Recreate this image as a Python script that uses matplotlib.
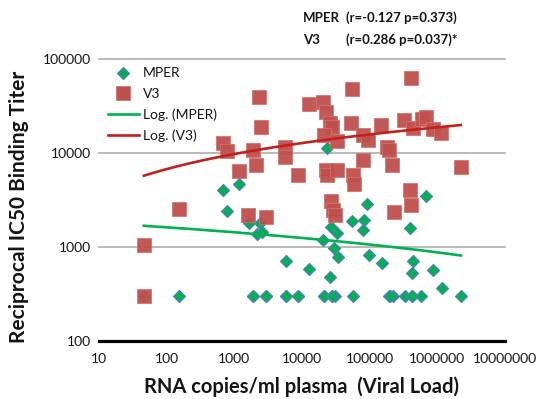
import numpy as np
import matplotlib
matplotlib.use('Agg')
import matplotlib.pyplot as plt
from matplotlib.lines import Line2D

plt.rcParams['font.family'] = ['Lato', 'DejaVu Sans']

# ---- data ----
mper_x = [46, 152, 680, 780, 1170, 1640, 2390, 2160, 2560, 5780, 12600, 23300,
          91000, 54600, 82100, 79400, 26700, 32800, 20400, 29600, 33900, 97300,
          151000, 25800, 676000, 393000, 435000, 420000, 859000, 1160000,
          1880, 2930, 5780, 8690, 21100, 27700, 30600, 56400, 192000, 220000,
          331000, 420000, 571000, 2230000,
          1900, 2900, 5800, 8700, 21000, 28000, 200000, 420000]
mper_y = [300, 300, 4000, 2400, 4700, 1790, 1790, 1370, 1440, 706, 581, 11300,
          2860, 1880, 1930, 1510, 1630, 1400, 1180, 970, 778, 818,
          671, 476, 3480, 1580, 706, 526, 567, 364,
          300, 300, 300, 300, 300, 300, 300, 300, 300, 300,
          300, 300, 300, 300,
          300, 300, 300, 300, 300, 300, 300, 300]

v3_x = [46, 46, 150, 680, 780, 1170, 1590, 1880, 2090, 2310, 2470, 2930,
        5600, 5600, 8700, 12600, 20400, 22500, 25800, 27700, 52800, 54600,
        21100, 32800, 79400, 94000, 146000, 179000, 192000, 79400, 213000,
        22500, 23300, 32800, 56400, 58400, 320000, 437000, 407000, 586000,
        676000, 859000, 1130000, 2230000, 393000, 407000, 228000, 26700,
        28600, 30600]
v3_y = [1050, 300, 2500, 12700, 10500, 6400, 2200, 10700, 7400, 39000, 19000, 2100,
        11600, 9000, 5800, 33000, 35000, 27000, 21000, 19000, 21000, 48000,
        15500, 13400, 15500, 13700, 20000, 11600, 10700, 8400, 7400,
        6600, 5800, 6600, 5800, 4700, 22400, 18600, 63000, 23000,
        24000, 18000, 16300, 7100, 4000, 2800, 2350, 3100,
        2460, 2180]

x_ticks = [10, 100, 1000, 10000, 100000, 1000000, 10000000]
x_tick_labels = ['10', '100', '1000', '10000', '100000', '1000000', '10000000']
y_ticks = [100, 1000, 10000, 100000]
y_tick_labels = ['100', '1000', '10000', '100000']

series_labels = ['MPER', 'V3', 'Log. (MPER)', 'Log. (V3)']
title_names = ['MPER', 'V3']
title_stats = ['(r=-0.127 p=0.373)', '(r=0.286 p=0.037)*']
x_label = 'RNA copies/ml plasma  (Viral Load)'
y_label = 'Reciprocal IC50 Binding Titer'

GREEN = '#00B050'
BLUE_EDGE = '#4F81BD'
RED_SQ = '#C0504D'
RED_LINE = '#C0211C'
TXT = '#141414'

W, H = 542, 399
fig = plt.figure(figsize=(W / 100, H / 100), dpi=100)
ax = fig.add_axes([99 / W, 58.3 / H, 406 / W, 281.7 / H])
ax.set_xscale('log')
ax.set_yscale('log')
ax.set_xlim(10, 1e7)
ax.set_ylim(100, 1e5)

ax.set_xticks(x_ticks)
ax.set_xticklabels(x_tick_labels)
ax.set_yticks(y_ticks)
ax.set_yticklabels(y_tick_labels)
ax.minorticks_off()
ax.tick_params(which='both', length=0, labelsize=10, colors=TXT)
ax.tick_params(axis='x', pad=9)
ax.tick_params(axis='y', pad=6)

ax.yaxis.grid(True, color='#A6A6A6', lw=1.1)
ax.set_axisbelow(True)
for gl in ax.get_ygridlines():
    gl.set_clip_on(False)
for s in ['top', 'right', 'left']:
    ax.spines[s].set_visible(False)
ax.spines['bottom'].set_linewidth(2.3)
ax.spines['bottom'].set_color('black')

# scatter
ax.scatter(mper_x, mper_y, marker='D', s=37, c=GREEN, edgecolors=BLUE_EDGE,
           linewidths=0.9, zorder=3)
ax.scatter(v3_x, v3_y, marker='s', s=88, c=RED_SQ, edgecolors='#D07370',
           linewidths=0.6, zorder=4, alpha=0.95)

# logarithmic trendlines (y = a*ln(x) + b), as in the spreadsheet
def log_trend(xs, ys):
    xs = np.asarray(xs, float)
    ys = np.asarray(ys, float)
    a, b = np.polyfit(np.log(xs), ys, 1)
    xx = np.logspace(np.log10(xs.min()), np.log10(xs.max()), 200)
    return xx, a * np.log(xx) + b

tx, ty = log_trend(mper_x, mper_y)
ax.plot(tx, ty, color=GREEN, lw=1.9, zorder=5)
tx, ty = log_trend(v3_x, v3_y)
ax.plot(tx, ty, color=RED_LINE, lw=1.9, zorder=5)

# legend
handles = [
    Line2D([], [], ls='none', marker='D', markersize=6.1, markerfacecolor=GREEN,
           markeredgecolor=BLUE_EDGE, markeredgewidth=0.9),
    Line2D([], [], ls='none', marker='s', markersize=9.4, markerfacecolor=RED_SQ,
           markeredgecolor='#D07370', markeredgewidth=0.6),
    Line2D([], [], color=GREEN, lw=1.9),
    Line2D([], [], color=RED_LINE, lw=1.9),
]
leg = ax.legend(handles, series_labels, loc='upper left',
                bbox_to_anchor=(0.012, 0.985), frameon=False, fontsize=10,
                handlelength=2.2, handletextpad=0.3, labelspacing=0.62,
                borderaxespad=0.0, borderpad=0.3)
for t in leg.get_texts():
    t.set_color(TXT)

# title block
fig.text(303 / W, 1 - 18 / H, title_names[0], fontsize=9.5, fontweight='bold',
         va='center', ha='left', color=TXT)
fig.text(346 / W, 1 - 18 / H, title_stats[0], fontsize=9.5, fontweight='bold',
         va='center', ha='left', color=TXT)
fig.text(303 / W, 1 - 40 / H, title_names[1], fontsize=9.5, fontweight='bold',
         va='center', ha='left', color=TXT)
fig.text(346 / W, 1 - 40 / H, title_stats[1], fontsize=9.5, fontweight='bold',
         va='center', ha='left', color=TXT)

# axis labels
fig.text(302 / W, 1 - 387 / H, x_label, fontsize=14.5, fontweight='bold',
         ha='center', va='center', color=TXT)
fig.text(19 / W, 1 - 207 / H, y_label, fontsize=15, fontweight='bold',
         ha='center', va='center', rotation=90, color=TXT)

fig.savefig('out.png', dpi=100)
